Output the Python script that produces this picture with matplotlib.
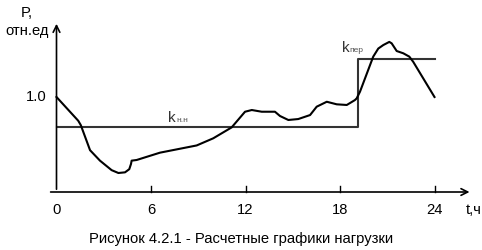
import matplotlib.pyplot as plt
import numpy as np

plt.rcParams['font.family'] = ['Liberation Sans', 'DejaVu Sans']

# load curve (t in hours, P in relative units)
t_load = [0, 1.38, 1.54, 2.13, 2.76, 3.5, 3.93, 4.35, 4.62, 4.73, 4.77, 5.09, 6.57,
          8.9, 9.95, 11.12, 11.97, 12.4, 13.03, 13.87, 14.19, 14.72, 15.35, 16.1,
          16.52, 17.16, 17.79, 18.43, 18.95, 19.06, 19.27, 20.11, 20.43, 20.75,
          21.13, 21.28, 21.6, 22.02, 22.4, 22.65, 24.0]
p_load = [1.0, 0.75, 0.705, 0.44, 0.33, 0.23, 0.20, 0.207, 0.24, 0.295, 0.33, 0.337, 0.414,
          0.49, 0.565, 0.68, 0.845, 0.863, 0.845, 0.845, 0.80, 0.758, 0.768, 0.81,
          0.898, 0.95, 0.923, 0.916, 0.968, 0.986, 1.056, 1.425, 1.51, 1.547,
          1.58, 1.565, 1.484, 1.46, 1.425, 1.37, 1.0]

# coefficient step line
t_coef = [0, 19.16, 19.16, 24.0]
p_coef = [0.684, 0.684, 1.40, 1.40]

x_ticks = [0, 6, 12, 18, 24]
y_tick = 1.0

fig = plt.figure(figsize=(4.82, 2.5), dpi=100)
ax = fig.add_axes([0, 0, 1, 1])
# map data coords to pixels: t=0 -> x 56.5px, 15.75 px/h; P=0 -> y 192px, 95 px/unit
ax.set_xlim(-56.5 / 15.75, (482 - 56.5) / 15.75)
ax.set_ylim(-(250 - 192) / 95, 192 / 95)
ax.axis('off')

# axes with arrows
ax.annotate('', xy=(26.4, 0), xytext=(-0.55, 0),
            arrowprops=dict(arrowstyle='->', color='black', lw=1.2, mutation_scale=12))
ax.annotate('', xy=(0, 1.80), xytext=(0, 0),
            arrowprops=dict(arrowstyle='->', color='black', lw=1.2, mutation_scale=12))

for t in x_ticks[1:]:
    ax.plot([t, t], [0, 0.065], color='black', lw=1)
for t in x_ticks:
    ax.text(t, -0.12, str(t), ha='center', va='top', fontsize=10.6)
ax.text(-0.6, y_tick, '1.0', ha='right', va='center', fontsize=10.6)

ax.text(27.0, -0.12, 't,ч', ha='right', va='top', fontsize=10.6)
ax.text(-1.87, 1.79, 'P,\nотн.ед', ha='center', va='center', fontsize=10.6, linespacing=1.35)

ax.plot(t_coef, p_coef, color='#333333', lw=1.5)
ax.plot(t_load, p_load, color='black', lw=1.5, solid_joinstyle='round')

ax.text(7.1, 0.74, 'k', fontsize=11, color='#333333', ha='left', va='baseline')
ax.text(7.6, 0.74, 'н.н', fontsize=6, color='#555555', ha='left', va='baseline')
ax.text(18.1, 1.47, 'k', fontsize=11, color='#333333', ha='left', va='baseline')
ax.text(18.6, 1.47, 'пер', fontsize=6, color='#555555', ha='left', va='baseline')

fig.text(0.5, 0.045, 'Рисунок 4.2.1 - Расчетные графики нагрузки',
         ha='center', va='center', fontsize=10.6)

fig.savefig('out.png', dpi=100)
